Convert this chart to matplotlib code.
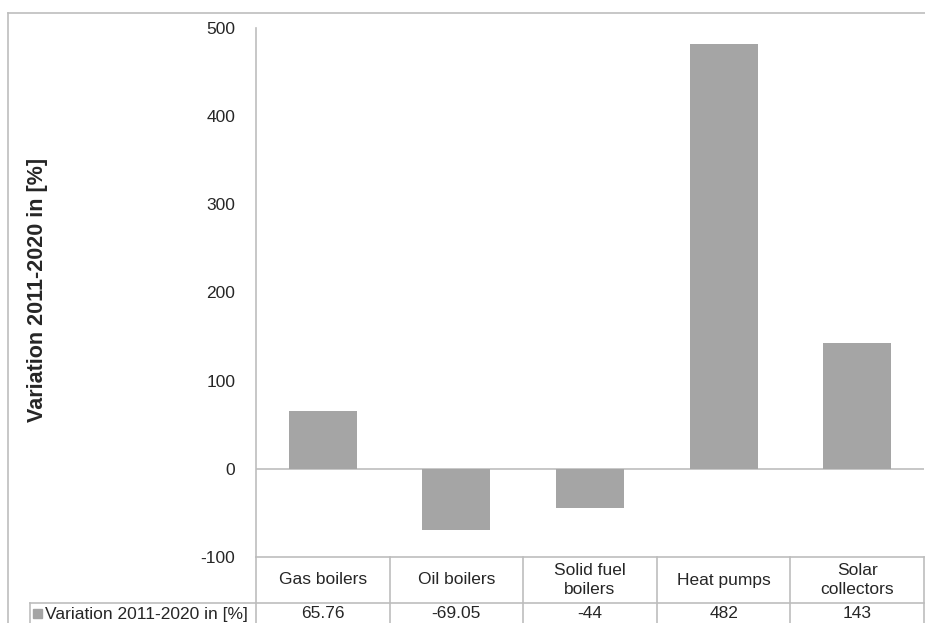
import matplotlib
matplotlib.use("Agg")
import matplotlib.pyplot as plt
from matplotlib.transforms import blended_transform_factory
from matplotlib.patches import Rectangle

plt.rcParams['font.family'] = ['Liberation Sans', 'DejaVu Sans']

categories = ["Gas boilers", "Oil boilers", "Solid fuel\nboilers", "Heat pumps", "Solar\ncollectors"]
values = [65.76, -69.05, -44, 482, 143]
value_labels = ["65.76", "-69.05", "-44", "482", "143"]
series_name = "Variation 2011-2020 in [%]"
y_ticks = [-100, 0, 100, 200, 300, 400, 500]

W, H = 925, 623
bar_color = "#a5a5a5"
line_color = "#bdbdbd"
text_color = "#262626"

fig = plt.figure(figsize=(W / 100, H / 100), dpi=100)

# pixel-space overlay for frame and table
ov = fig.add_axes([0, 0, 1, 1])
ov.set_xlim(0, W)
ov.set_ylim(H, 0)
ov.axis("off")

ax = fig.add_axes([256 / W, 1 - 557 / H, (924 - 256) / W, (557 - 28) / H])
ax.set_zorder(2)
ax.patch.set_alpha(0)

x = list(range(len(categories)))
ax.bar(x, values, width=0.51, color=bar_color, zorder=3)
ax.set_xlim(-0.5, len(categories) - 0.5)
ax.set_ylim(-100, 500)
ax.set_yticks(y_ticks)
ax.set_yticklabels([str(t) for t in y_ticks], fontsize=12.5, color=text_color)
ax.tick_params(axis="y", length=0, pad=15)
ax.set_xticks([])
for s in ["top", "right", "bottom"]:
    ax.spines[s].set_visible(False)
ax.spines["left"].set_color(line_color)
ax.spines["left"].set_linewidth(1.2)
ax.axhline(0, color=line_color, lw=1.2, zorder=2)

fig.text(38 / W, 1 - 290 / H, series_name, rotation=90, ha="center", va="center",
         fontsize=15.5, fontweight="bold", color=text_color)

# outer frame
ov.plot([8, W], [13, 13], color=line_color, lw=1.2)
ov.plot([8, 8], [13, H], color=line_color, lw=1.2)

# data table below the plot
tr = blended_transform_factory(ax.transData, ov.transData)
n = len(categories)
top_y, mid_y, bot_y = 557, 603, 630
ov.plot([-0.5, n - 0.5], [top_y, top_y], color=line_color, lw=1.2, transform=tr, clip_on=False)
ov.plot([-0.5, n - 0.5], [mid_y, mid_y], color=line_color, lw=1.2, transform=tr, clip_on=False)
ov.plot([30, 256], [mid_y, mid_y], color=line_color, lw=1.2)
ov.plot([30, 30], [mid_y, bot_y], color=line_color, lw=1.2)
for i in range(n + 1):
    ov.plot([i - 0.5, i - 0.5], [top_y, bot_y], color=line_color, lw=1.2, transform=tr, clip_on=False)
for i, (c, v) in enumerate(zip(categories, value_labels)):
    ov.text(i, 580, c, ha="center", va="center", fontsize=12.5,
            color=text_color, transform=tr, linespacing=1.3)
    ov.text(i, 614, v, ha="center", va="center", fontsize=12.5, color=text_color, transform=tr)

ov.add_patch(Rectangle((33, 609), 9, 9, color=bar_color))
ov.text(45, 614, series_name, ha="left", va="center", fontsize=12.5, color=text_color)

fig.savefig("out.png", dpi=100)
